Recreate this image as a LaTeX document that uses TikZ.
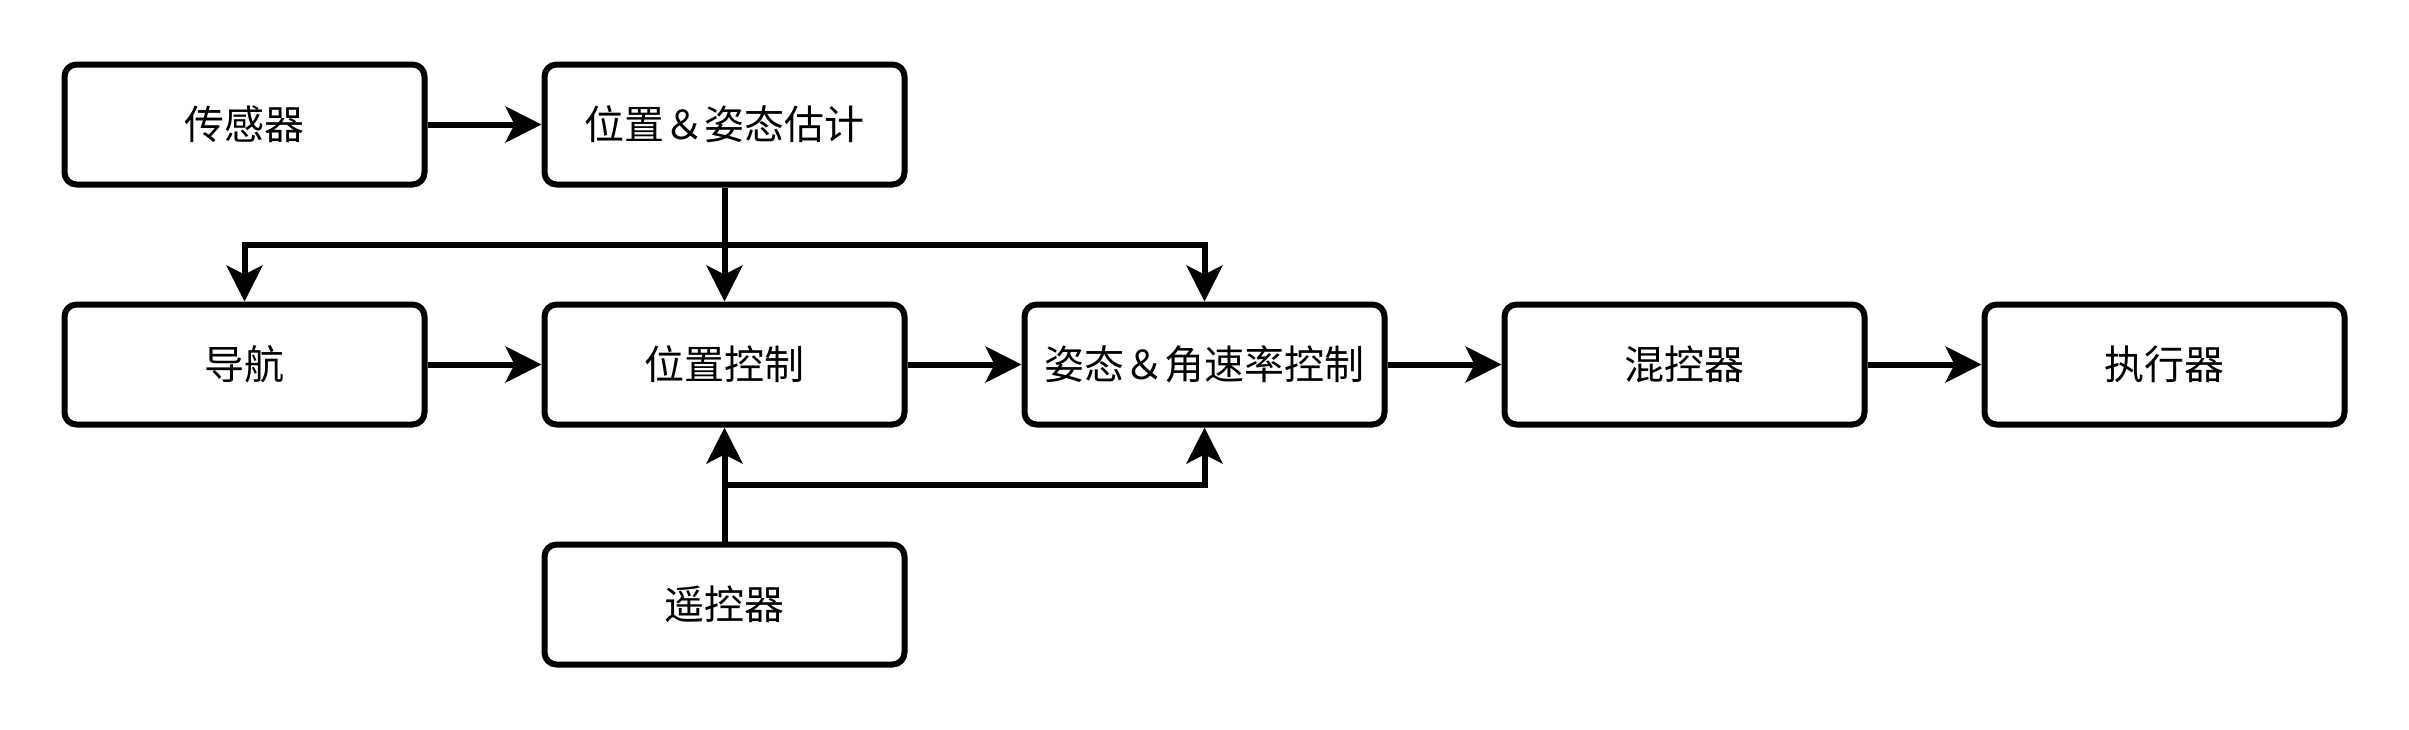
\documentclass[tikz,border=0pt]{standalone}
\usepackage{fontspec}
\setmainfont{Noto Sans CJK SC}
\usetikzlibrary{arrows.meta}
\begin{document}
\begin{tikzpicture}[x=1pt,y=-1pt,
  blk/.style={draw=black, line width=6pt, rounded corners=12pt, fill=white,
    minimum width=360pt, minimum height=120pt, inner sep=0pt,
    font=\fontsize{40}{48}\selectfont},
  arr/.style={draw=black, line width=6pt, -{Stealth[length=36pt,width=36pt,inset=9pt]}}]
\useasboundingbox (0,0) rectangle (2409,729);
\node[blk] (sen) at (244.5,124.5) {传感器};
\node[blk] (est) at (724.5,124.5) {位置＆姿态估计};
\node[blk] (nav) at (244.5,364.5) {导航};
\node[blk] (pos) at (724.5,364.5) {位置控制};
\node[blk] (att) at (1204.5,364.5) {姿态＆角速率控制};
\node[blk] (mix) at (1684.5,364.5) {混控器};
\node[blk] (act) at (2164.5,364.5) {执行器};
\node[blk] (rc)  at (724.5,604.5) {遥控器};
\coordinate (busTop) at (724.5,244.5);
\coordinate (busBot) at (724.5,484.5);
\draw[arr] (sen.east) -- (est.west);
\draw[arr] (est.south) -- (pos.north);
\draw[arr] (busTop) -| (nav.north);
\draw[arr] (busTop) -| (att.north);
\draw[arr] (nav.east) -- (pos.west);
\draw[arr] (pos.east) -- (att.west);
\draw[arr] (att.east) -- (mix.west);
\draw[arr] (mix.east) -- (act.west);
\draw[arr] (rc.north) -- (pos.south);
\draw[arr] (busBot) -| (att.south);
\end{tikzpicture}
\end{document}
